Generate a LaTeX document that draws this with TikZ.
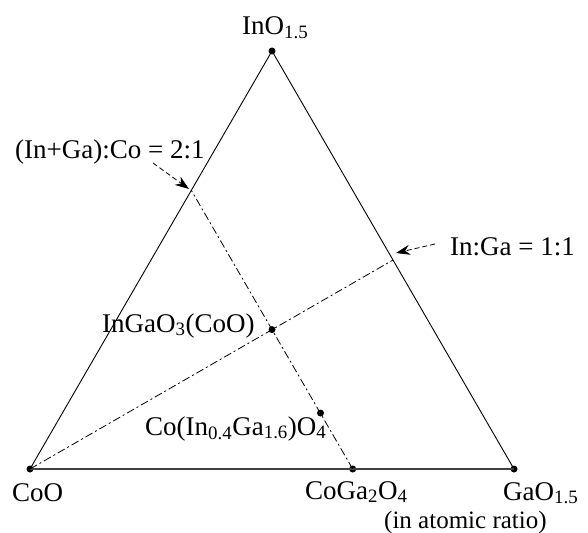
\documentclass[tikz,border=0pt]{standalone}
\usepackage{fontspec}
\setmainfont{Liberation Serif}
\usetikzlibrary{arrows.meta}
\begin{document}
\begin{tikzpicture}[x=1pt,y=-1pt,
  pt/.style={circle,fill=black,inner sep=0pt,minimum size=7pt},
  lbl/.style={inner sep=0pt,anchor=base west,font=\fontsize{27}{30}\selectfont},
  edge/.style={line width=0.9pt},
  dashdotline/.style={line width=0.8pt,dash pattern=on 8pt off 3pt on 2pt off 3pt},
  pointer/.style={line width=0.8pt,dash pattern=on 5pt off 3pt,-{Stealth[length=14pt,width=10pt]}}]
\useasboundingbox (0,0) rectangle (588,532);
% vertices and points
\node[pt] (in) at (272,51) {};
\node[pt] (co) at (30,469) {};
\node[pt] (ga) at (514,469) {};
\node[pt] (cga) at (352.7,469) {};
\node[pt] (igc) at (272,329.6) {};
\node[pt] (cig) at (320.5,413) {};
\coordinate (left21) at (191.3,190.3);
\coordinate (right11) at (393,260);
% triangle
\draw[edge] (co.center) -- (in.center) -- (ga.center);
\draw[edge,line width=1.3pt,black!75] (co.center) -- (ga.center);
% composition lines
\draw[dashdotline] (cga.center) -- (left21);
\draw[dashdotline] (co.center) -- (right11);
% labels
\node[lbl] (lin) at (242,35) {InO\textsubscript{1.5}};
\node[lbl] (lco) at (12,501) {CoO};
\node[lbl] (lcga) at (305,499) {CoGa\textsubscript{2}O\textsubscript{4}};
\node[lbl] (lga) at (503,500) {GaO\textsubscript{1.5}};
\node[lbl,font=\fontsize{25}{30}\selectfont] (lratio) at (384,528) {(in atomic ratio)};
\node[lbl] (ligc) at (102,332) {InGaO\textsubscript{3}(CoO)};
\node[lbl] (lcig) at (145,435) {Co(In\textsubscript{0.4}Ga\textsubscript{1.6})O\textsubscript{4}};
\node[lbl] (l21) at (15,158) {(In+Ga):Co = 2:1};
\node[lbl] (l11) at (450,255) {In:Ga = 1:1};
% pointers
\coordinate (a21s) at (153,163);
\coordinate (a21e) at (189,189);
\coordinate (a11s) at (435,244);
\coordinate (a11e) at (396,253);
\draw[pointer] (a21s) -- (a21e);
\draw[pointer] (a11s) -- (a11e);
\end{tikzpicture}
\end{document}
